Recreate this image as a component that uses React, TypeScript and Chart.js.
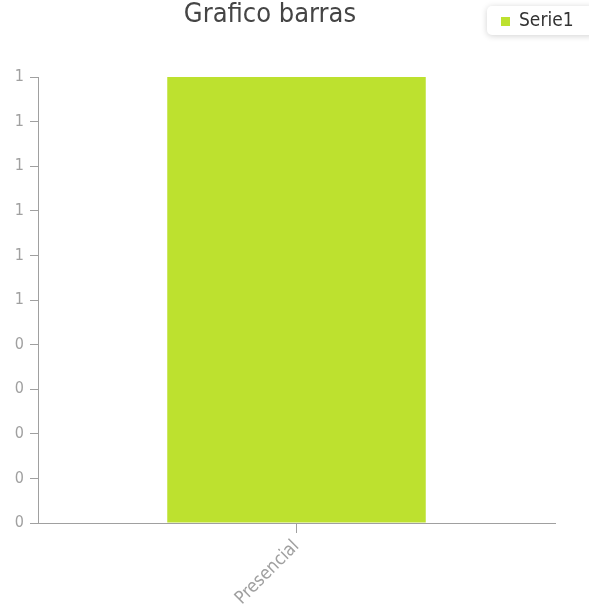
import React, { useEffect, useRef } from 'react';
import { Chart, registerables } from 'chart.js';

Chart.register(...registerables);

const FONT = '"DejaVu Sans Condensed", "DejaVu Sans", sans-serif';

const chartTitle = 'Grafico barras';
const categories = ['Presencial'];
const seriesName = 'Serie1';
const serie1Values = [1];
const yTickLabels = ['0', '0', '0', '0', '0', '1', '1', '1', '1', '1', '1'];

const BAR_COLOR = '#bde12f';

const overlayPlugin = {
  id: 'overlay',
  afterDraw(chart: any) {
    const ctx = chart.ctx as CanvasRenderingContext2D;
    ctx.save();
    // title
    ctx.font = `27px ${FONT}`;
    ctx.fillStyle = '#454545';
    ctx.textAlign = 'center';
    ctx.textBaseline = 'middle';
    ctx.fillText(chartTitle, 270, 15);

    // legend box
    const ds = chart.data.datasets[0];
    ctx.save();
    ctx.shadowColor = 'rgba(0,0,0,0.18)';
    ctx.shadowBlur = 6;
    ctx.shadowOffsetY = 1;
    ctx.fillStyle = '#ffffff';
    ctx.beginPath();
    (ctx as any).roundRect(487, 6, 110, 29, 5);
    ctx.fill();
    ctx.restore();

    ctx.fillStyle = ds.backgroundColor;
    ctx.fillRect(501, 17, 9, 9);
    ctx.font = `19px ${FONT}`;
    ctx.fillStyle = '#333333';
    ctx.textAlign = 'left';
    ctx.textBaseline = 'middle';
    ctx.fillText(ds.label, 519, 21);
    ctx.restore();
  },
};

export default function App() {
  const ref = useRef<HTMLCanvasElement | null>(null);

  useEffect(() => {
    document.body.style.margin = '0';
    if (!ref.current) return;
    Chart.defaults.font.family = FONT;
    const chart = new Chart(ref.current, {
      type: 'bar',
      data: {
        labels: categories,
        datasets: [
          {
            label: seriesName,
            data: serie1Values,
            backgroundColor: BAR_COLOR,
            borderWidth: 0,
            barPercentage: 0.5,
            categoryPercentage: 1,
          },
        ],
      },
      options: {
        responsive: false,
        animation: false,
        layout: { padding: { top: 77, right: 34, left: 0, bottom: 0 } },
        plugins: {
          legend: { display: false },
          title: { display: false },
          tooltip: { enabled: false },
        },
        scales: {
          x: {
            grid: {
              offset: false,
              drawOnChartArea: false,
              tickLength: 10,
              color: '#a0a0a0',
            },
            border: { display: true, color: '#a0a0a0', width: 1 },
            ticks: {
              color: '#a0a0a0',
              font: { size: 18 },
              minRotation: 45,
              maxRotation: 45,
              padding: 3,
            },
            afterFit: (scale: any) => {
              scale.height = 89;
            },
          },
          y: {
            min: 0,
            max: 1,
            grid: {
              drawOnChartArea: false,
              tickLength: 8,
              color: '#a0a0a0',
            },
            border: { display: true, color: '#a0a0a0', width: 1 },
            ticks: {
              stepSize: 0.1,
              color: '#a0a0a0',
              font: { size: 16 },
              padding: 6,
              callback: (_v: any, i: number) => yTickLabels[i],
            },
            afterFit: (scale: any) => {
              scale.width = 38;
            },
          },
        },
      },
      plugins: [overlayPlugin],
    });
    return () => chart.destroy();
  }, []);

  return (
    <div style={{ width: 589, height: 612 }}>
      <canvas ref={ref} width={589} height={612} />
    </div>
  );
}
